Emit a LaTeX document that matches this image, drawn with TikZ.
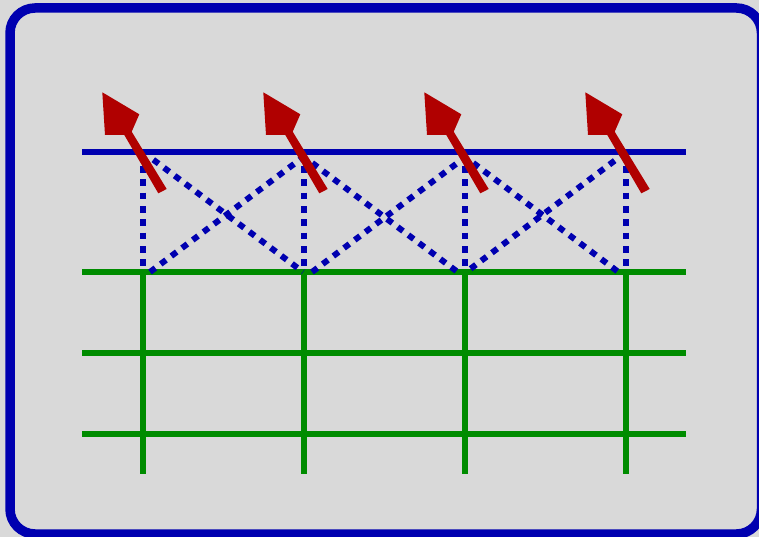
\documentclass[tikz,border=0pt]{standalone}
\usetikzlibrary{calc}
\definecolor{panel}{RGB}{217,217,217}
\definecolor{framecol}{RGB}{0,0,176}
\definecolor{latgreen}{RGB}{0,140,0}
\definecolor{spinred}{RGB}{176,0,0}
\begin{document}
\begin{tikzpicture}[x=1pt,y=-1pt,
  frame/.style={draw=framecol,line width=9.5pt,rounded corners=25pt},
  lattice/.style={draw=latgreen,line width=6pt},
  chain/.style={draw=framecol,line width=6pt},
  bond/.style={draw=framecol,line width=6pt,dash pattern=on 6.67pt off 6.67pt},
  spin/.style={fill=spinred,draw=none}]
\useasboundingbox (0,0) rectangle (759,537);
\clip (0,0) rectangle (759,537);
\fill[panel] (0,0) rectangle (759,537);
\draw[frame] (10,8) rectangle (761.5,534);

% lattice sites along the chain
\foreach \k in {0,...,3} {
  \coordinate (top\k) at ({142.7+161*\k},152);
  \coordinate (row\k) at ({142.7+161*\k},272);
  \coordinate (foot\k) at ({142.7+161*\k},474);
}
\coordinate (rowL1) at (82,272);  \coordinate (rowR1) at (686,272);
\coordinate (rowL2) at (82,353);  \coordinate (rowR2) at (686,353);
\coordinate (rowL3) at (82,434);  \coordinate (rowR3) at (686,434);
\coordinate (chainL) at (82,152); \coordinate (chainR) at (686,152);

% green square lattice
\foreach \r in {1,2,3} \draw[lattice] (rowL\r) -- (rowR\r);
\foreach \k in {0,...,3} \draw[lattice] (row\k) -- (foot\k);

% blue chain line
\draw[chain] (chainL) -- (chainR);

% dotted couplings
\foreach \k in {0,...,3} \draw[bond] ($(top\k)+(0,14)$) -- (row\k);
\draw[bond] (153.3,159.7) -- (303,272);
\draw[bond] (150,272) -- (310,152);
\draw[bond] (312.3,163) -- (457.6,272);
\draw[bond] (312,272) -- (472,152);
\draw[bond] (473.3,163) -- (618.4,272);
\draw[bond] (470.6,268.7) -- (626.2,152);

% red spin arrows
\foreach \k in {0,...,3} {
  \fill[spin, shift={(161*\k,0)}]
    (102.3,92.3) -- (139.3,114.3) -- (131.7,131.7) -- (166.7,189)
    -- (158.3,193.3) -- (124.3,135) -- (105,135) -- cycle;
}
\end{tikzpicture}
\end{document}
